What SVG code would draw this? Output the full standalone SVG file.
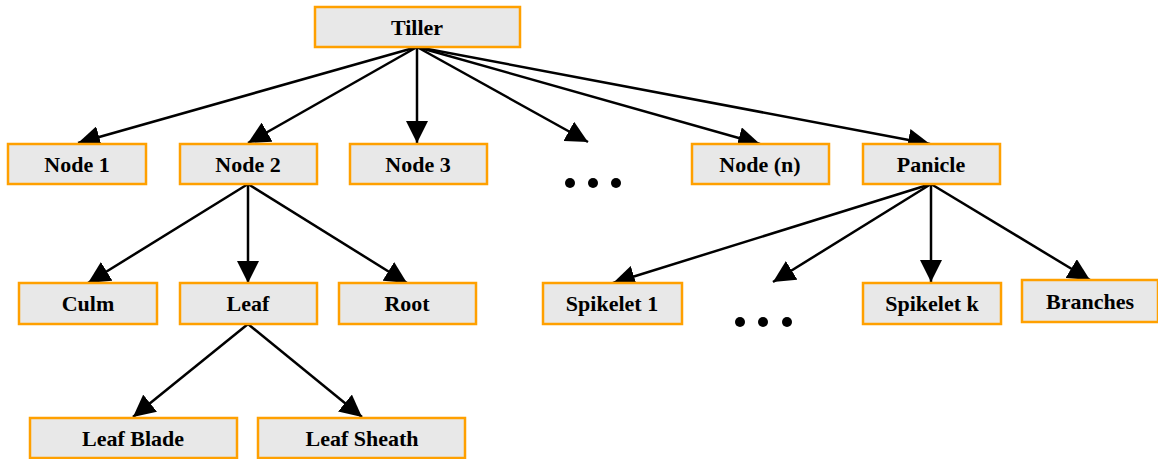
<svg xmlns="http://www.w3.org/2000/svg" width="1158" height="459" viewBox="0 0 1158 459">
<style>
.box{fill:#e8e8e8;stroke:#ffa000;stroke-width:2.5}
text{font-family:'Liberation Serif','DejaVu Serif','Times New Roman',serif;font-weight:700;font-size:22px;fill:#000;text-anchor:middle}
.edge{stroke:#000;stroke-width:2.5;fill:none;marker-end:url(#ah)}
.dot{fill:#000}
</style>
<defs>
<marker id="ah" markerUnits="userSpaceOnUse" markerWidth="24" markerHeight="22" refX="22" refY="11" orient="auto">
<path d="M0,0 L22,11 L0,22 Z" fill="#000"/>
</marker>
</defs>
<g id="connectors">
<line class="edge" x1="417" y1="47" x2="78" y2="143"/>
<line class="edge" x1="417" y1="47" x2="248" y2="143"/>
<line class="edge" x1="417" y1="47" x2="417" y2="143"/>
<line class="edge" x1="417" y1="47" x2="588" y2="142"/>
<line class="edge" x1="417" y1="47" x2="760" y2="144"/>
<line class="edge" x1="417" y1="47" x2="930" y2="144"/>
<line class="edge" x1="248" y1="184" x2="88" y2="283"/>
<line class="edge" x1="248" y1="184" x2="248" y2="283"/>
<line class="edge" x1="248" y1="184" x2="407" y2="283"/>
<line class="edge" x1="248" y1="324" x2="133" y2="417"/>
<line class="edge" x1="248" y1="324" x2="362" y2="417"/>
<line class="edge" x1="931" y1="184" x2="613" y2="283"/>
<line class="edge" x1="931" y1="184" x2="773" y2="282"/>
<line class="edge" x1="931" y1="184" x2="931" y2="282"/>
<line class="edge" x1="931" y1="184" x2="1090" y2="280"/>
</g>
<g id="tiller"><rect class="box" x="315" y="7" width="205" height="40"/><text x="417" y="35">Tiller</text></g>
<g id="node1"><rect class="box" x="8" y="144" width="138" height="40"/><text x="77" y="172">Node 1</text></g>
<g id="node2"><rect class="box" x="180" y="144" width="137" height="40"/><text x="248" y="172">Node 2</text></g>
<g id="node3"><rect class="box" x="350" y="144" width="137" height="40"/><text x="418" y="172">Node 3</text></g>
<g id="dots1"><circle class="dot" cx="570" cy="183" r="5"/><circle class="dot" cx="593" cy="183" r="5"/><circle class="dot" cx="616" cy="183" r="5"/></g>
<g id="noden"><rect class="box" x="692" y="144" width="137" height="40"/><text x="760" y="172">Node (n)</text></g>
<g id="panicle"><rect class="box" x="863" y="144" width="137" height="40"/><text x="931" y="172">Panicle</text></g>
<g id="culm"><rect class="box" x="19" y="283" width="138" height="41"/><text x="88" y="311">Culm</text></g>
<g id="leaf"><rect class="box" x="180" y="283" width="137" height="41"/><text x="248" y="311">Leaf</text></g>
<g id="root"><rect class="box" x="339" y="283" width="137" height="41"/><text x="407" y="311">Root</text></g>
<g id="spikelet1"><rect class="box" x="543" y="283" width="139" height="41"/><text x="612" y="311">Spikelet 1</text></g>
<g id="dots2"><circle class="dot" cx="740" cy="322" r="5"/><circle class="dot" cx="763" cy="322" r="5"/><circle class="dot" cx="787" cy="322" r="5"/></g>
<g id="spikeletk"><rect class="box" x="863" y="283" width="138" height="41"/><text x="932" y="311">Spikelet k</text></g>
<g id="branches"><rect class="box" x="1022" y="280" width="136" height="42"/><text x="1090" y="309">Branches</text></g>
<g id="leafblade"><rect class="box" x="30" y="418" width="207" height="40"/><text x="133" y="446">Leaf Blade</text></g>
<g id="leafsheath"><rect class="box" x="258" y="418" width="207" height="40"/><text x="362" y="446">Leaf Sheath</text></g>
</svg>
